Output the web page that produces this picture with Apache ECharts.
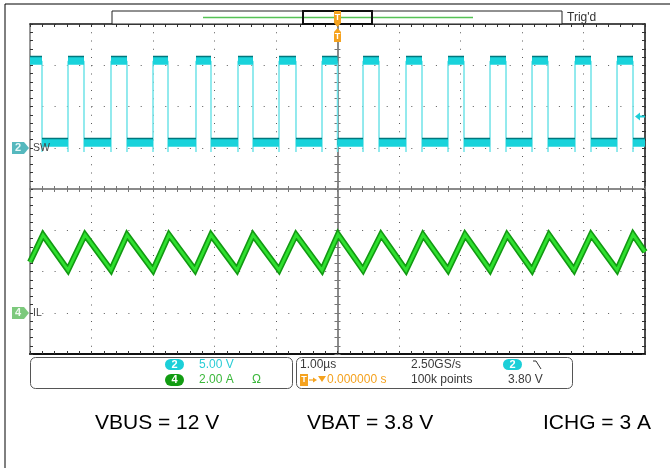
<!DOCTYPE html>
<html><head><meta charset="utf-8">
<script src="https://cdn.jsdelivr.net/npm/echarts@6/dist/echarts.min.js"></script>
<style>html,body{margin:0;padding:0;background:#fff}#c{width:670px;height:468px}</style>
</head><body><div id="c"></div>
<script>
// ---- data (time in µs, SW in V, IL in A) ----
const swFallTimes = [-4.805,-4.122,-3.423,-2.756,-2.057,-1.374,-0.675,0,0.675,1.374,2.057,2.740,3.423,4.122,4.805];
const swRiseTimes = [-4.382,-3.683,-3.000,-2.301,-1.618,-0.951,-0.252,0.415,1.114,1.797,2.480,3.163,3.862,4.545];
const swHighV = 10.5;
const swLowV = 0.6;
const swUndershootV = -0.5;
const ilPeakTimes = [-4.789,-4.106,-3.423,-2.740,-2.057,-1.374,-0.675,0.008,0.707,1.390,2.073,2.756,3.439,4.122,4.805];
const ilPeakA = [3.77,3.78,3.77,3.78,3.77,3.77,3.78,3.80,3.79,3.78,3.79,3.78,3.78,3.79,3.80];
const ilValleyTimes = [-4.382,-3.683,-3.000,-2.317,-1.634,-0.951,-0.252,0.415,1.114,1.797,2.480,3.163,3.846,4.545];
const ilValleyA = [2.07,2.07,2.06,2.07,2.07,2.07,2.06,2.07,2.06,2.07,2.07,2.06,2.07,2.07];
const ilStartA = 2.46;
const ilEndA = 2.95;
const trigLevelV = 3.80;
const timeRange = [-5, 5];      // 1.00 µs/div
const swAxisRange = [-25, 15];  // 5.00 V/div
const ilAxisRange = [-2, 14];   // 2.00 A/div
const ch2Scale = '5.00 V', ch4Scale = '2.00 A';
const timebase = '1.00µs', sampleRate = '2.50GS/s', recordLen = '100k points', trigPos = '0.000000 s', trigLevelText = '3.80 V';
const noteTexts = ['VBUS = 12 V', 'VBAT = 3.8 V', 'ICHG = 3 A'];

// ---- build series data ----
const events = swFallTimes.map(t => ({t, type: 'fall'}))
  .concat(swRiseTimes.map(t => ({t, type: 'rise'})))
  .sort((a, b) => a.t - b.t);
const swEdge = [[timeRange[0], swHighV]];
const swBands = [];
let prevT = timeRange[0], level = swHighV;
events.forEach(e => {
  swBands.push({coords: [[prevT, level], [e.t, level]]});
  if (e.type === 'fall') { swEdge.push([e.t, swHighV], [e.t, swUndershootV], [e.t, swLowV]); level = swLowV; }
  else { swEdge.push([e.t, swLowV], [e.t, swUndershootV], [e.t, swHighV]); level = swHighV; }
  prevT = e.t;
});
swBands.push({coords: [[prevT, level], [timeRange[1], level]]});
swEdge.push([timeRange[1], level]);

const ilPts = [[timeRange[0], ilStartA]]
  .concat(ilPeakTimes.map((t, i) => [t, ilPeakA[i]]))
  .concat(ilValleyTimes.map((t, i) => [t, ilValleyA[i]]))
  .sort((a, b) => a[0] - b[0]);
ilPts.push([timeRange[1], ilEndA]);

// ---- chart ----
const FONT = 'Liberation Sans, Arial, sans-serif';
const dotGrey = '#5a5a5a';
const G = {left: 30, top: 24, width: 615, height: 330};
const noLabel = {show: false};
function edgeAxis(extra) {
  return Object.assign({
    axisLabel: noLabel,
    axisTick: {show: true, inside: true, length: 3, lineStyle: {color: '#333'}},
    minorTick: {show: true, splitNumber: 5, length: 3, lineStyle: {color: '#333'}},
    splitLine: {show: false}
  }, extra);
}
const centerTick = {show: true, inside: true, length: 3, lineStyle: {color: '#777'}};
const centerMinor = {show: true, splitNumber: 5, length: 3, lineStyle: {color: '#777'}};
const chart = echarts.init(document.getElementById('c'), null, {renderer: 'canvas'});
const option = {
  animation: false,
  backgroundColor: '#fff',
  grid: [Object.assign({}, G), Object.assign({}, G), Object.assign({}, G)],
  xAxis: [
    edgeAxis({gridIndex: 0, type: 'value', position: 'bottom', min: timeRange[0], max: timeRange[1], interval: 1,
      axisLine: {show: true, onZero: false, lineStyle: {color: '#111', width: 2}},
      splitLine: {show: true, lineStyle: {color: dotGrey, width: 1, type: [1, 7.25]}}}),
    edgeAxis({gridIndex: 0, type: 'value', position: 'top', min: timeRange[0], max: timeRange[1], interval: 1,
      axisLine: {show: true, onZero: false, lineStyle: {color: '#111', width: 1.5}}}),
    edgeAxis({gridIndex: 1, type: 'value', position: 'bottom', min: timeRange[0], max: timeRange[1], interval: 1,
      axisLine: {show: true, onZero: true, lineStyle: {color: '#8a8a8a', width: 2}},
      axisTick: centerTick, minorTick: centerMinor}),
    edgeAxis({gridIndex: 2, type: 'value', position: 'top', min: timeRange[0], max: timeRange[1], interval: 1,
      axisLine: {show: true, onZero: true, lineStyle: {color: '#8a8a8a', width: 2}},
      axisTick: centerTick, minorTick: centerMinor})
  ],
  yAxis: [
    edgeAxis({gridIndex: 0, type: 'value', position: 'left', min: swAxisRange[0], max: swAxisRange[1], interval: 5,
      axisLine: {show: true, onZero: false, lineStyle: {color: '#777', width: 1.5}},
      splitLine: {show: true, lineStyle: {color: dotGrey, width: 1, type: [1, 11.3]}}}),
    {gridIndex: 0, type: 'value', show: false, position: 'right', min: ilAxisRange[0], max: ilAxisRange[1], interval: 2,
      axisLine: {onZero: false}},
    edgeAxis({gridIndex: 0, type: 'value', position: 'right', min: -4, max: 4, interval: 1,
      axisLine: {show: true, onZero: false, lineStyle: {color: '#111', width: 1.5}}}),
    edgeAxis({gridIndex: 1, type: 'value', position: 'left', min: -4, max: 4, interval: 1,
      axisLine: {show: true, onZero: true, lineStyle: {color: '#8a8a8a', width: 2}},
      axisTick: centerTick, minorTick: centerMinor}),
    edgeAxis({gridIndex: 2, type: 'value', position: 'right', min: -4, max: 4, interval: 1,
      axisLine: {show: true, onZero: true, lineStyle: {color: '#8a8a8a', width: 2}},
      axisTick: centerTick, minorTick: centerMinor})
  ],
  series: [
    {type: 'line', name: 'SW edges', xAxisIndex: 0, yAxisIndex: 0, data: swEdge, showSymbol: false, silent: true,
      lineStyle: {color: '#6fe3e8', width: 1.5}, z: 3,
      markPoint: {silent: true, symbol: 'path://M0,4 L5,0 L5,3 L10,3 L10,5 L5,5 L5,8 Z', symbolSize: [10, 8], symbolOffset: [-5, 0],
        itemStyle: {color: '#1CCFD8'}, label: {show: false}, data: [{coord: [timeRange[1], trigLevelV]}]}},
    {type: 'lines', name: 'SW plateaus', coordinateSystem: 'cartesian2d', xAxisIndex: 0, yAxisIndex: 0, silent: true, z: 4,
      data: swBands, lineStyle: {color: '#19D3DB', width: 7.5, opacity: 1, cap: 'butt', shadowColor: '#00777d', shadowBlur: 0, shadowOffsetY: -1.5}},
    {type: 'line', name: 'IL outline', xAxisIndex: 0, yAxisIndex: 1, data: ilPts, showSymbol: false, silent: true, z: 5,
      lineStyle: {color: '#129a12', width: 6, join: 'miter'}},
    {type: 'line', name: 'IL', xAxisIndex: 0, yAxisIndex: 1, data: ilPts, showSymbol: false, silent: true, z: 6,
      lineStyle: {color: '#2fe02f', width: 2.8, join: 'miter'}}
  ],
  graphic: [
    {type: 'rect', shape: {x: 5, y: 4, width: 690, height: 490}, style: {fill: 'none', stroke: '#000', lineWidth: 1}, z: 100},
    // record bar
    {type: 'rect', shape: {x: 112, y: 11, width: 450, height: 13}, style: {fill: '#fff', stroke: '#222', lineWidth: 1}, z: 100},
    {type: 'line', shape: {x1: 203, y1: 17.5, x2: 473, y2: 17.5}, style: {stroke: '#55c255', lineWidth: 1.5}, z: 101},
    {type: 'rect', shape: {x: 303, y: 11, width: 69, height: 13}, style: {fill: 'none', stroke: '#111', lineWidth: 2}, z: 102},
    {type: 'text', x: 567, y: 17.5, style: {text: "Trig'd", fill: '#333', font: '12px ' + FONT, textVerticalAlign: 'middle'}, z: 100},
    // trigger markers
    {type: 'polygon', shape: {points: [[334, 11], [341, 11], [341, 23], [337.5, 27], [334, 23]]}, style: {fill: '#F5A21E'}, z: 103},
    {type: 'text', x: 337.5, y: 17.5, style: {text: 'T', fill: '#fff', font: 'bold 9px ' + FONT, textAlign: 'center', textVerticalAlign: 'middle'}, z: 104},
    {type: 'polygon', shape: {points: [[337.5, 28], [341, 32], [341, 42], [334, 42], [334, 32]]}, style: {fill: '#F5A21E'}, z: 103},
    {type: 'text', x: 337.5, y: 37, style: {text: 'T', fill: '#fff', font: 'bold 9px ' + FONT, textAlign: 'center', textVerticalAlign: 'middle'}, z: 104},
    // channel markers
    {type: 'polygon', shape: {points: [[12, 142], [24, 142], [29, 148], [24, 154], [12, 154]]}, style: {fill: '#55B8BE'}, z: 100},
    {type: 'text', x: 18, y: 148, style: {text: '2', fill: '#e6f8f8', font: 'bold 11px ' + FONT, textAlign: 'center', textVerticalAlign: 'middle'}, z: 101},
    {type: 'text', x: 33, y: 148, style: {text: 'SW', fill: '#444', font: '10.5px ' + FONT, textVerticalAlign: 'middle'}, z: 101},
    {type: 'polygon', shape: {points: [[12, 307], [24, 307], [29, 313], [24, 319], [12, 319]]}, style: {fill: '#7CC97C'}, z: 100},
    {type: 'text', x: 18, y: 313, style: {text: '4', fill: '#eefaee', font: 'bold 11px ' + FONT, textAlign: 'center', textVerticalAlign: 'middle'}, z: 101},
    {type: 'text', x: 33, y: 313, style: {text: 'IL', fill: '#444', font: '10.5px ' + FONT, textVerticalAlign: 'middle'}, z: 101},
    // info panels
    {type: 'rect', shape: {x: 30.5, y: 357.5, width: 262, height: 31, r: 5}, style: {fill: '#fff', stroke: '#555', lineWidth: 1}, z: 100},
    {type: 'rect', shape: {x: 296.5, y: 357.5, width: 276, height: 31, r: 5}, style: {fill: '#fff', stroke: '#555', lineWidth: 1}, z: 100},
    {type: 'rect', shape: {x: 165, y: 359, width: 19, height: 11, r: 5.5}, style: {fill: '#1CCFD8'}, z: 101},
    {type: 'text', x: 174.5, y: 364.5, style: {text: '2', fill: '#fff', font: 'bold 11px ' + FONT, textAlign: 'center', textVerticalAlign: 'middle'}, z: 102},
    {type: 'text', x: 199, y: 364.5, style: {text: ch2Scale, fill: '#2bcdd6', font: '12px ' + FONT, textVerticalAlign: 'middle'}, z: 102},
    {type: 'rect', shape: {x: 165, y: 374, width: 19, height: 12, r: 6}, style: {fill: '#129c12'}, z: 101},
    {type: 'text', x: 174.5, y: 380, style: {text: '4', fill: '#fff', font: 'bold 11px ' + FONT, textAlign: 'center', textVerticalAlign: 'middle'}, z: 102},
    {type: 'text', x: 199, y: 380, style: {text: ch4Scale, fill: '#3cb83c', font: '12px ' + FONT, textVerticalAlign: 'middle'}, z: 102},
    {type: 'text', x: 252, y: 380, style: {text: 'Ω', fill: '#3cb83c', font: '12px ' + FONT, textVerticalAlign: 'middle'}, z: 102},
    {type: 'text', x: 300, y: 364.5, style: {text: timebase, fill: '#3a3a3a', font: '12px ' + FONT, textVerticalAlign: 'middle'}, z: 102},
    {type: 'text', x: 411, y: 364.5, style: {text: sampleRate, fill: '#3a3a3a', font: '12px ' + FONT, textVerticalAlign: 'middle'}, z: 102},
    {type: 'text', x: 411, y: 380, style: {text: recordLen, fill: '#3a3a3a', font: '12px ' + FONT, textVerticalAlign: 'middle'}, z: 102},
    {type: 'rect', shape: {x: 300, y: 374, width: 8, height: 12}, style: {fill: '#F5A21E'}, z: 101},
    {type: 'text', x: 304, y: 380, style: {text: 'T', fill: '#fff', font: 'bold 9px ' + FONT, textAlign: 'center', textVerticalAlign: 'middle'}, z: 102},
    {type: 'line', shape: {x1: 309, y1: 380, x2: 314, y2: 380}, style: {stroke: '#F5A21E', lineWidth: 1.2}, z: 102},
    {type: 'polygon', shape: {points: [[313, 377.5], [317, 380], [313, 382.5]]}, style: {fill: '#F5A21E'}, z: 102},
    {type: 'polygon', shape: {points: [[318, 376], [326, 376], [322, 382]]}, style: {fill: '#F5A21E'}, z: 102},
    {type: 'text', x: 327, y: 380, style: {text: trigPos, fill: '#F5A21E', font: '12px ' + FONT, textVerticalAlign: 'middle'}, z: 102},
    {type: 'rect', shape: {x: 503, y: 359, width: 19, height: 11, r: 5.5}, style: {fill: '#1CCFD8'}, z: 101},
    {type: 'text', x: 512.5, y: 364.5, style: {text: '2', fill: '#fff', font: 'bold 11px ' + FONT, textAlign: 'center', textVerticalAlign: 'middle'}, z: 102},
    {type: 'polyline', shape: {points: [[533, 361], [536, 361], [541, 369]]}, style: {stroke: '#333', lineWidth: 1, fill: 'none'}, z: 102},
    {type: 'text', x: 508, y: 380, style: {text: trigLevelText, fill: '#3a3a3a', font: '12px ' + FONT, textVerticalAlign: 'middle'}, z: 102},
    // notes
    {type: 'text', x: 95, y: 423, style: {text: noteTexts[0], fill: '#000', font: '21px ' + FONT, textVerticalAlign: 'middle'}, z: 102},
    {type: 'text', x: 307, y: 423, style: {text: noteTexts[1], fill: '#000', font: '21px ' + FONT, textVerticalAlign: 'middle'}, z: 102},
    {type: 'text', x: 543, y: 423, style: {text: noteTexts[2], fill: '#000', font: '21px ' + FONT, textVerticalAlign: 'middle'}, z: 102}
  ]
};
chart.setOption(option);
</script>
</body></html>
